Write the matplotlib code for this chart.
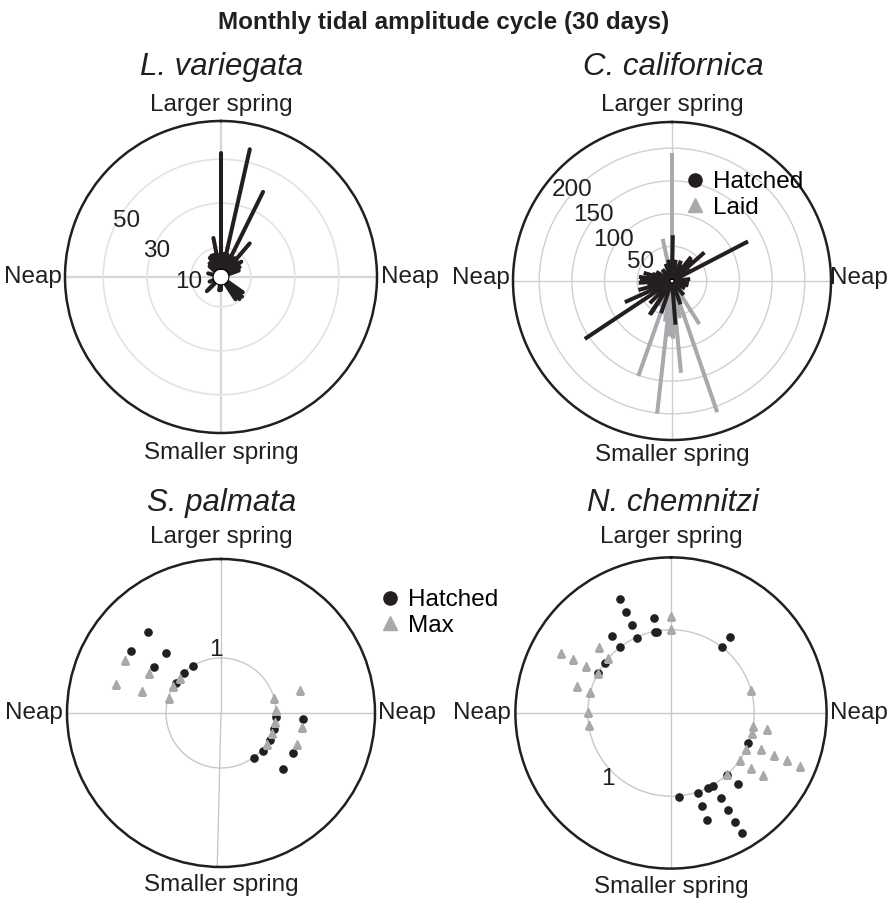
import numpy as np
import matplotlib
matplotlib.use("Agg")
import matplotlib.pyplot as plt
from matplotlib.lines import Line2D

plt.rcParams['font.family'] = ['Liberation Sans', 'DejaVu Sans']

BLACK = '#231f20'
GRAY = '#a7a9ac'
FS = 17.5

# ---------------- data (angle in degrees clockwise from "Larger spring", value) ----
# L. variegata (radial bars)
lv_angle = [0, 12.7, 26.3, 40.5, -11, -47, -40, -30, -24, -18, -8, 3, 8, 16, 22, 30, 36, 46, 53, 62, 70,
            -74, -112, -135, -172, 180, 125, 133, 140, 147, 225]
lv_value = [53, 56, 39.6, 16.5, 14.5, 3.5, 4.5, 6.5, 7, 7, 6.5, 7, 7, 7, 6.5, 6.5, 7, 6.5, 8, 6, 5,
            2.5, 2, 4.5, 2.5, 2.5, 8.5, 9.5, 9.5, 8.5, 5.5]

# C. californica
cc_laid_angle = [0, 186.4, 161, 199.5, 174.4, 147.6, 179, 183, -12.5, 190, 168, 205, -20, -40, 150, 215]
cc_laid_value = [192, 201, 209, 151, 138, 75, 85, 82, 63, 60, 55, 40, 25, 20, 30, 30]
cc_hatch_angle = [62.5, 236.4, 1, 245.8, 175.5, 213.6, 48.6, 38.5, 45, 267, 273, 277, 286, 290, 92, 24,
                  198.6, 212.7, 105, 84, 34, 10, 60, 120, 140, 160, 225, 255, 260, 300, 320, 340, 350]
cc_hatch_value = [128, 157, 67, 76, 64, 59, 63, 44, 42, 48, 46, 48, 42, 29, 23, 31,
                  49, 57, 23, 25, 26, 30, 30, 20, 25, 35, 45, 50, 35, 25, 20, 25, 30]

# S. palmata
sp_hatch_angle = [317.7, 304.6, 317.3, 304.3, 329.3, 317.3, 304, 94, 107, 119, 132, 144, 94, 119, 132]
sp_hatch_value = [1.98, 1.99, 1.48, 1.48, 0.99, 0.98, 0.98, 1.0, 1.0, 1.02, 1.02, 1.02, 1.5, 1.5, 1.51]
sp_max_angle = [298.7, 285.6, 299, 285.5, 311, 299, 285.6, 74.5, 87, 99.4, 111, 124, 74, 99.7, 112]
sp_max_value = [1.99, 1.99, 1.5, 1.5, 0.98, 1.0, 0.99, 1.0, 1.0, 1.0, 1.0, 1.0, 1.5, 1.5, 1.5]

# N. chemnitzi
nc_hatch_angle = [335.8, 336, 336, 336, 350, 349, 350.5, 322.6, 322, 307.3, 299, 37.6, 37.5, 111.5,
                  137.9, 136.6, 150, 153.7, 161.4, 174.3, 149.6, 149.5, 149.4, 149.4, 161.4, 161.5]
nc_hatch_value = [1.5, 1.33, 1.16, 0.99, 1.16, 0.99, 0.99, 1.16, 1.0, 0.99, 1.0, 1.16, 1.0, 1.0,
                  1.0, 1.18, 1.01, 1.01, 1.01, 1.01, 1.18, 1.35, 1.52, 1.68, 1.18, 1.35]
nc_max_angle = [0, 0, 298.7, 299, 299, 312.6, 311.3, 299, 286, 284.5, 270.7, 262, 74.2, 99, 99.2, 103.8,
                116, 112, 112.3, 112, 112.3, 124.7, 124, 124.4, 137.6]
nc_max_value = [1.17, 1.01, 1.51, 1.34, 1.17, 1.17, 1.0, 1.0, 1.17, 1.0, 1.0, 1.0, 1.0, 1.0, 1.17, 1.0,
                1.0, 1.17, 1.34, 1.51, 1.67, 1.17, 1.34, 1.0, 1.0]

tick_lv = [10, 30, 50]
tick_cc = [50, 100, 150, 200]
tick_sp = [1]
tick_nc = [1]

W, H = 888, 898
fig = plt.figure(figsize=(W / 100, H / 100), dpi=100)


def polar_axes(cx, cy, R, spokes=(0, 90, 180, 270)):
    ax = fig.add_axes([(cx - R) / W, (H - cy - R) / H, 2 * R / W, 2 * R / H], projection='polar')
    ax.set_theta_zero_location('N')
    ax.set_theta_direction(-1)
    ax.set_thetagrids(list(spokes), labels=[])
    ax.spines['polar'].set_linewidth(1.8)
    ax.spines['polar'].set_color(BLACK)
    if 'inner' in ax.spines:
        ax.spines['inner'].set_visible(False)
    ax.tick_params(axis='both', length=0)
    return ax


def side_labels(ax, top_y, bot_y, left_x, right_x, ymid=0.5):
    kw = dict(transform=ax.transAxes, fontsize=FS, color=BLACK, clip_on=False)
    ax.text(0.5, top_y, 'Larger spring', ha='center', va='center', **kw)
    ax.text(0.5, bot_y, 'Smaller spring', ha='center', va='center', **kw)
    ax.text(left_x, ymid, 'Neap', ha='right', va='center', **kw)
    ax.text(right_x, ymid, 'Neap', ha='left', va='center', **kw)


def grid_style(ax, ring_color, ring_lw, spoke_color, spoke_lw):
    for gl in ax.yaxis.get_gridlines():
        gl.set_color(ring_color)
        gl.set_linewidth(ring_lw)
        gl.set_linestyle('-')
    for gl in ax.xaxis.get_gridlines():
        gl.set_color(spoke_color)
        gl.set_linewidth(spoke_lw)
        gl.set_linestyle('-')


# ---------------- Panel 1: L. variegata ----------------
ax1 = polar_axes(221, 277, 156)
ax1.set_rorigin(-3.6)
ax1.set_ylim(0, 67.4)
ax1.set_rgrids(tick_lv, labels=[])
grid_style(ax1, '#e3e3e3', 1.2, '#d6d6d6', 1.6)
for a, v in zip(lv_angle, lv_value):
    ax1.plot([np.deg2rad(a)] * 2, [0, v], color=BLACK, lw=2.9, solid_capstyle='round')
for lab, (x, y) in zip(tick_lv, [(0.395, 0.484), (0.295, 0.584), (0.198, 0.679)]):
    ax1.text(x, y, str(lab), transform=ax1.transAxes, fontsize=FS, ha='center', va='center', color=BLACK)
side_labels(ax1, 1.051, -0.064, -0.01, 1.013)

# ---------------- Panel 2: C. californica ----------------
ax2 = polar_axes(672, 281, 159)
ax2.set_rorigin(-3)
ax2.set_ylim(0, 240)
ax2.set_rgrids(tick_cc, labels=[])
grid_style(ax2, '#d0d0d0', 1.0, '#d0d0d0', 1.0)
for a, v in zip(cc_laid_angle, cc_laid_value):
    ax2.plot([np.deg2rad(a)] * 2, [0, v], color=GRAY, lw=2.9, solid_capstyle='butt')
for a, v in zip(cc_hatch_angle, cc_hatch_value):
    ax2.plot([np.deg2rad(a)] * 2, [0, v], color=BLACK, lw=2.9, solid_capstyle='butt')
for lab, (x, y) in zip(tick_cc, [(0.400, 0.560), (0.317, 0.628), (0.254, 0.706), (0.186, 0.785)]):
    ax2.text(x, y, str(lab), transform=ax2.transAxes, fontsize=FS, ha='center', va='center', color=BLACK)
side_labels(ax2, 1.053, -0.047, -0.01, 0.998, ymid=0.51)
h1 = Line2D([], [], ls='none', marker='o', color=BLACK, ms=9.5, label='Hatched')
h2 = Line2D([], [], ls='none', marker='^', color=GRAY, ms=10, label='Laid')
fig.legend(handles=[h1, h2], loc='upper left', bbox_to_anchor=(683 / W, 1 - 171 / H), frameon=False,
           fontsize=FS, handletextpad=0.25, labelspacing=0.15, handlelength=1.0, borderpad=0, borderaxespad=0)

# ---------------- Panel 3: S. palmata ----------------
ax3 = polar_axes(221, 713, 154, spokes=(0, 90, 181.4, 270))
ax3.set_ylim(0, 2.8)
ax3.set_rgrids(tick_sp, labels=[])
grid_style(ax3, '#c8c8c8', 1.0, '#c8c8c8', 1.0)
ax3.plot(np.deg2rad(sp_hatch_angle), sp_hatch_value, ls='none', marker='o', color=BLACK, ms=5.2)
ax3.plot(np.deg2rad(sp_max_angle), sp_max_value, ls='none', marker='^', color=GRAY, ms=6.3)
ax3.text(0.484, 0.705, '1', transform=ax3.transAxes, fontsize=FS, ha='center', va='center', color=BLACK)
side_labels(ax3, 1.071, -0.06, -0.012, 1.01)
h3 = Line2D([], [], ls='none', marker='o', color=BLACK, ms=9.5, label='Hatched')
h4 = Line2D([], [], ls='none', marker='^', color=GRAY, ms=10, label='Max')
fig.legend(handles=[h3, h4], loc='upper left', bbox_to_anchor=(378 / W, 1 - 589 / H), frameon=False,
           fontsize=FS, handletextpad=0.25, labelspacing=0.15, handlelength=1.0, borderpad=0, borderaxespad=0)

# ---------------- Panel 4: N. chemnitzi ----------------
ax4 = polar_axes(671, 713, 155.6)
ax4.set_ylim(0, 1.87)
ax4.set_rgrids(tick_nc, labels=[])
grid_style(ax4, '#c8c8c8', 1.0, '#c8c8c8', 1.0)
ax4.plot(np.deg2rad(nc_hatch_angle), nc_hatch_value, ls='none', marker='o', color=BLACK, ms=5.2)
ax4.plot(np.deg2rad(nc_max_angle), nc_max_value, ls='none', marker='^', color=GRAY, ms=6.3)
ax4.text(0.2985, 0.287, '1', transform=ax4.transAxes, fontsize=FS, ha='center', va='center', color=BLACK)
side_labels(ax4, 1.066, -0.06, -0.014, 1.01)

# ---------------- titles ----------------
fig.text(0.5, 1 - 22 / H, 'Monthly tidal amplitude cycle (30 days)', ha='center', va='center',
         fontsize=17.5, fontweight='bold', color=BLACK)
for x, y, t in [(222, 67, 'L. variegata'), (673, 67, 'C. californica'),
                (222, 503, 'S. palmata'), (673, 503, 'N. chemnitzi')]:
    fig.text(x / W, 1 - y / H, t, ha='center', va='center', fontsize=22.5, style='italic', color=BLACK)

fig.savefig('out.png', dpi=100)
